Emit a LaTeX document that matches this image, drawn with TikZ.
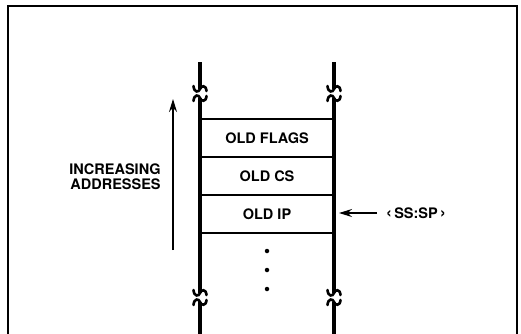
\documentclass[tikz,border=0pt]{standalone}
\usepackage{fontspec}
\setmainfont{TeX Gyre Heros}
\usetikzlibrary{arrows.meta}
\begin{document}
\begin{tikzpicture}[x=1pt,y=-1pt,
  lbl/.style={font=\fontsize{14.5}{15.5}\selectfont\bfseries, inner sep=0pt},
  cell/.style={minimum width=134pt, minimum height=38pt, inner sep=0pt, font=\fontsize{14.5}{15.5}\selectfont\bfseries},
  col/.style={line width=3.2pt},
  brk/.style={line width=2.6pt, line cap=round},
  rowline/.style={line width=2pt},
  frame/.style={line width=2.5pt},
  arr/.style={line width=1.3pt, -{Stealth[length=13pt,width=8pt]}},
  dot/.style={circle, fill=black, inner sep=0pt, minimum size=4.5pt}]
\useasboundingbox (0,0) rectangle (521,333);
% frame (open at the bottom)
\draw[frame] (8,345) -- (8,6) -- (517,6) -- (517,345);
% columns with break marks
\foreach \x in {200,334}{
  \draw[col] (\x,62) -- (\x,89);
  \draw[brk] (\x-6.5,86) .. controls (\x-6,93) and (\x-1,92.5) .. (\x,89) .. controls (\x+1,85.5) and (\x+6,84.5) .. (\x+6.5,91);
  \draw[brk] (\x-6.5,101) .. controls (\x-6,94) and (\x-1,94.5) .. (\x,98) .. controls (\x+1,101.5) and (\x+6,102.5) .. (\x+6.5,96);
  \draw[col] (\x,98) -- (\x,293);
  \draw[brk] (\x-6.5,290) .. controls (\x-6,297) and (\x-1,296.5) .. (\x,293) .. controls (\x+1,289.5) and (\x+6,288.5) .. (\x+6.5,295);
  \draw[brk] (\x-6.5,305) .. controls (\x-6,298) and (\x-1,298.5) .. (\x,302) .. controls (\x+1,305.5) and (\x+6,306.5) .. (\x+6.5,300);
  \draw[col] (\x,302) -- (\x,345);
}
% rows
\node[cell] (flags) at (267,138) {OLD FLAGS};
\node[cell] (cs) at (267,176) {OLD CS};
\node[cell] (ip) at (267,214) {OLD IP};
\draw[rowline] (200,119) -- (334,119);
\draw[rowline] (flags.south west) -- (flags.south east);
\draw[rowline] (cs.south west) -- (cs.south east);
\draw[rowline] (ip.south west) -- (ip.south east);
% dots
\node[dot] (d1) at (267,251) {};
\node[dot] (d2) at (267,270) {};
\node[dot] (d3) at (267,289) {};
% increasing addresses
\node[lbl, align=right] (inc) at (115,176.5) {INCREASING\\ADDRESSES};
\coordinate (arrlo) at (173,250);
\coordinate (arrhi) at (173,99);
\draw[arr] (arrlo) -- (arrhi);
% stack pointer
\node[lbl, anchor=west] (ssp) at (386,213) {{\fontsize{17}{17}\selectfont ‹}\,SS:SP\,{\fontsize{17}{17}\selectfont ›}};
\coordinate (iptip) at (339,213);
\draw[arr] ([xshift=-9pt]ssp.west) -- (iptip);
\end{tikzpicture}
\end{document}
